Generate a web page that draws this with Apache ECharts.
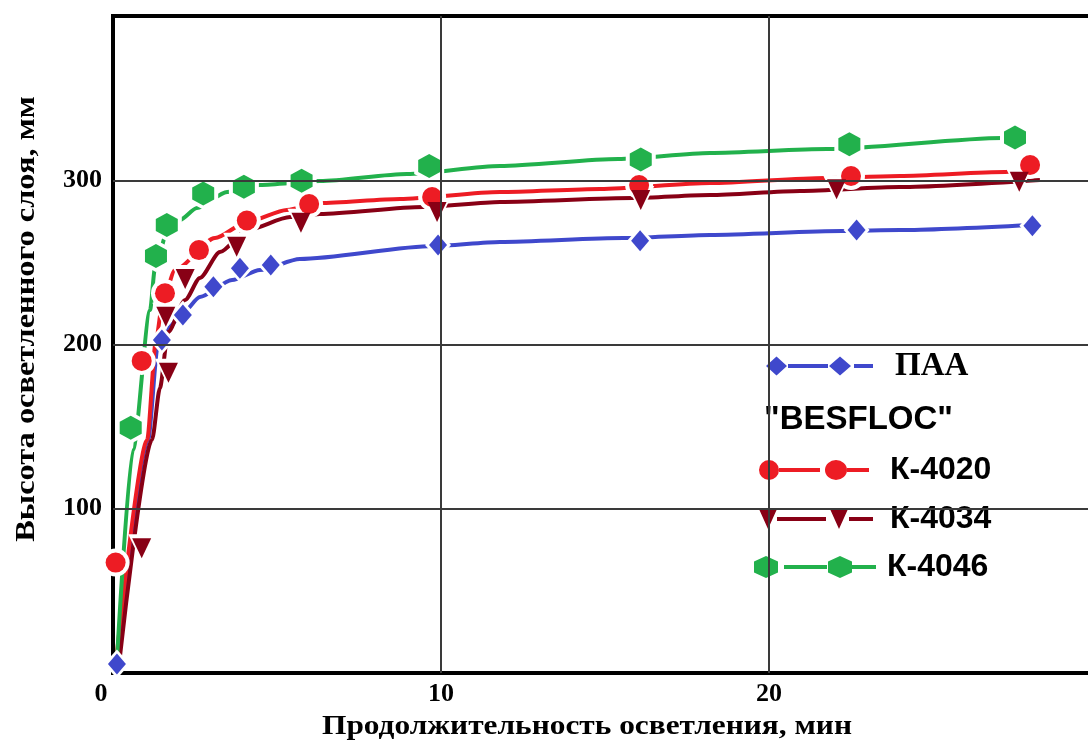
<!DOCTYPE html>
<html><head><meta charset="utf-8">
<script src="https://cdn.jsdelivr.net/npm/echarts@6/dist/echarts.min.js"></script>
<style>html,body{margin:0;padding:0;background:#fff}#c{width:1088px;height:745px}</style>
</head><body><div id="c"></div>
<script>
// ---- data ----
const xTicks = [0, 10, 20];
const yTicks = [100, 200, 300];
const gridX = [10, 20];
const gridY = [100, 200, 300];
const names = ['ПАА', 'К-4020', 'К-4034', 'К-4046'];
const groupLabel = '"BESFLOC"';
const xTitle = 'Продолжительность осветления, мин';
const yTitle = 'Высота осветленного слоя, мм';

const paaPoints = [[0.12,5.5],[1.49,202.7],[2.13,217.9],[3.06,235.2],[3.87,246.4],[4.81,248.4],[9.91,260.6],[16.07,263.2],[22.67,269.7],[28.03,272.3]];
const paaCurve  = [[0.12,4.9],[1.07,141.9],[1.37,199.7],[1.68,210.0],[2.13,219.2],[2.65,228.9],[3.63,239.3],[4.48,245.4],[5.7,252.0],[9.76,259.9],[11.8,262.4],[15.55,264.8],[18.2,266.7],[22.23,269.1],[23.99,269.7],[28.02,272.8]];

const k4020Points = [[0.08,67.2],[0.875,190.0],[1.585,231.2],[2.62,257.5],[4.08,275.5],[5.98,285.5],[9.73,289.8],[16.04,297.1],[22.5,302.6],[27.96,309.3]];
const k4020Curve  = [[0.12,12.2],[1.04,141.9],[1.31,202.7],[1.52,227.1],[1.89,245.4],[3.11,264.8],[4.09,274.6],[5.3,281.9],[6.31,286.1],[8.75,288.6],[11.8,292.8],[14.85,294.7],[18.2,298.3],[21.7,301.4],[23.99,302.6],[27.2,305.0],[27.96,306.2]];

const k4034Points = [[0.875,75.9],[1.61,216.9],[1.69,182.8],[2.2,239.9],[3.77,259.5],[5.73,274.2],[9.88,280.7],[16.09,288.0],[22.06,294.5],[27.63,299.1]];
const k4034Curve  = [[0.21,9.7],[1.19,141.9],[1.43,173.5],[1.68,207.6],[2.2,227.1],[2.65,240.5],[3.26,256.3],[4.09,269.7],[5.4,277.6],[6.31,279.5],[9.45,283.7],[11.8,286.8],[15.85,289.2],[18.2,291.0],[20.95,293.5],[23.99,295.9],[28.26,300.2]];

const k4046Points = [[0.54,149.3],[1.31,253.9],[1.64,272.8],[2.75,292.0],[3.99,296.0],[5.75,299.7],[9.64,308.7],[16.09,312.7],[22.45,321.9],[27.5,326.1]];
const k4046Curve  = [[0.12,7.9],[0.61,135.8],[1.13,221.0],[1.28,246.6],[1.65,268.5],[2.04,275.8],[2.56,283.1],[3.48,292.8],[4.48,297.1],[6.31,299.5],[8.96,303.8],[11.8,308.7],[15.4,312.9],[18.2,316.6],[21.77,319.0],[27.13,325.7],[27.5,326.3]];

// ---- styles ----
const colors = ['#3F48CC', '#ED1C24', '#880015', '#22B14C'];
const hexPath = 'path://M12,0L24,5.5L24,16.5L12,22L0,16.5L0,5.5Z';
const symbols = ['diamond', 'circle', 'triangle', hexPath];
const symRot = [0, 0, 180, 0];
const symSize = [[18,21], [20,20], [19,20], [22,24]];
const halo = 8;
const icons = [
  'path://M0,9.5L10.5,0L21,9.5L10.5,19Z M22,7.5H62V11.5H22Z M63,9.5L74,0L85,9.5L74,19Z M88,7.5H107V11.5H88Z',
  'path://M0,10A10,10,0,1,1,20,10A10,10,0,1,1,0,10Z M20,8H61V12H20Z M66,10A11,10,0,1,1,88,10A11,10,0,1,1,66,10Z M88,8H110V12H88Z',
  'path://M0,0H18L9,20Z M18,8H67V12H18Z M71,0H89L80,20Z M90,8H114V12H90Z',
  'path://M12,0L24,5.5L24,16.5L12,22L0,16.5L0,5.5Z M30,9H73V13H30Z M86,0L98,5.5L98,16.5L86,22L74,16.5L74,5.5Z M98,9H122V13H98Z'
];
const iconBox = [[107,19],[110,20],[114,20],[122,22]];
const legendPos = [[766,348],[759,452],[759,501],[754,549]];
const legendPad = [17,16,12,6];

const pointsArr = [paaPoints, k4020Points, k4034Points, k4046Points];
const curveArr = [paaCurve, k4020Curve, k4034Curve, k4046Curve];

const series = [];
series.push({
  type: 'line', name: 'grid', data: [], z: 1, silent: true,
  markLine: {
    silent: true, symbol: 'none', label: {show: false}, animation: false,
    lineStyle: {color: '#3a3a3a', width: 2, type: 'solid'},
    data: gridX.map(v => ({xAxis: v})).concat(gridY.map(v => ({yAxis: v})))
  }
});
for (let i = 0; i < 4; i++) {
  series.push({
    type: 'line', name: names[i] + ' (линия)', data: curveArr[i], z: 2,
    showSymbol: false, smooth: 0.25, smoothMonotone: 'x',
    lineStyle: {color: colors[i], width: 4}, silent: true
  });
}
for (let i = 0; i < 4; i++) {
  series.push({
    type: 'scatter', name: names[i] + ' (фон)', data: pointsArr[i], z: 3, silent: true,
    symbol: symbols[i], symbolRotate: symRot[i],
    symbolSize: [symSize[i][0] + halo, symSize[i][1] + halo],
    itemStyle: {color: '#fff', opacity: 1}
  });
}
for (let i = 0; i < 4; i++) {
  series.push({
    type: 'scatter', name: names[i], data: pointsArr[i], z: 4,
    symbol: symbols[i], symbolRotate: symRot[i], symbolSize: symSize[i],
    itemStyle: {color: colors[i], opacity: 1}
  });
}

const legends = names.map((n, i) => ({
  left: legendPos[i][0], top: legendPos[i][1], padding: 0, orient: 'horizontal',
  itemWidth: iconBox[i][0], itemHeight: iconBox[i][1], selectedMode: false,
  data: [{name: n, icon: icons[i]}],
  textStyle: {
    fontFamily: i === 0 ? 'Liberation Serif' : 'Liberation Sans',
    fontWeight: 'bold', fontSize: i === 0 ? 33 : 32, color: '#000',
    lineHeight: 36, padding: [0, 0, 0, legendPad[i]]
  }
}));

const chart = echarts.init(document.getElementById('c'), null, {renderer: 'canvas'});
chart.setOption({
  animation: false,
  backgroundColor: '#fff',
  grid: {left: 113, width: 984, top: 16, bottom: 72, outerBoundsMode: 'none', containLabel: false,
         show: true, borderColor: '#000', borderWidth: 4, backgroundColor: 'transparent'},
  xAxis: {
    type: 'value', min: 0, max: 30, interval: 10,
    axisLine: {show: false}, axisTick: {show: false}, splitLine: {show: false},
    axisLabel: {
      margin: 8, color: '#000', fontFamily: 'Liberation Serif', fontWeight: 'bold', fontSize: 26,
      formatter: v => v === 0 ? '{z|0}' : (xTicks.includes(v) ? String(v) : ''),
      rich: {z: {padding: [0, 24, 0, 0], color: '#000', fontFamily: 'Liberation Serif', fontWeight: 'bold', fontSize: 26}}
    }
  },
  yAxis: {
    type: 'value', min: 0, max: 400, interval: 100,
    axisLine: {show: false}, axisTick: {show: false}, splitLine: {show: false},
    axisLabel: {
      margin: 11, color: '#000', fontFamily: 'Liberation Serif', fontWeight: 'bold', fontSize: 26,
      formatter: v => yTicks.includes(v) ? String(v) : ''
    }
  },
  legend: legends,
  graphic: [
    {type: 'text', x: 587, y: 727, scaleX: 1.12, style: {text: xTitle, align: 'center', verticalAlign: 'middle', fill: '#000', font: 'bold 28px "Liberation Serif"'}},
    {type: 'text', x: 27, y: 319, rotation: Math.PI / 2, scaleX: 1.2, style: {text: yTitle, align: 'center', verticalAlign: 'middle', fill: '#000', font: 'bold 27px "Liberation Serif"'}},
    {type: 'text', x: 764, y: 420, style: {text: groupLabel, align: 'left', verticalAlign: 'middle', fill: '#000', font: 'bold 33px "Liberation Sans"'}}
  ],
  series: series
});
</script></body></html>
